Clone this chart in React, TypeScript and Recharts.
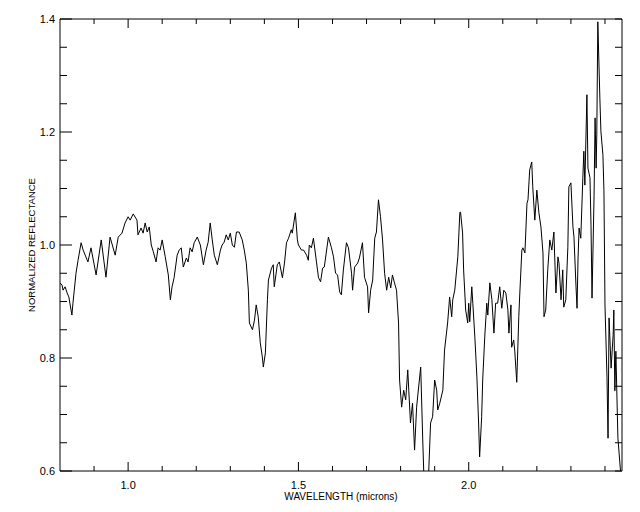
import { LineChart, Line, XAxis, YAxis } from 'recharts';

// wavelength (microns) of each sample
const wavelength = [
  0.800, 0.806, 0.809, 0.815, 0.821, 0.826, 0.835, 0.838, 0.847, 0.853,
  0.862, 0.868, 0.882, 0.891, 0.906, 0.921, 0.935, 0.947, 0.962, 0.971,
  0.982, 0.991, 1.000, 1.006, 1.015, 1.026, 1.029, 1.038, 1.044, 1.050,
  1.056, 1.062, 1.068, 1.074, 1.082, 1.088, 1.094, 1.100, 1.109, 1.118,
  1.124, 1.129, 1.135, 1.144, 1.150, 1.156, 1.162, 1.171, 1.176, 1.182,
  1.188, 1.194, 1.203, 1.212, 1.221, 1.229, 1.235, 1.241, 1.247, 1.253,
  1.262, 1.271, 1.276, 1.282, 1.288, 1.294, 1.300, 1.306, 1.312, 1.318,
  1.326, 1.335, 1.341, 1.347, 1.353, 1.356, 1.365, 1.371, 1.376, 1.382,
  1.388, 1.394, 1.397, 1.403, 1.409, 1.412, 1.421, 1.426, 1.429, 1.438,
  1.444, 1.453, 1.459, 1.465, 1.471, 1.479, 1.482, 1.491, 1.497, 1.500,
  1.509, 1.515, 1.524, 1.529, 1.532, 1.538, 1.544, 1.553, 1.559, 1.565,
  1.571, 1.576, 1.588, 1.597, 1.603, 1.609, 1.615, 1.621, 1.626, 1.632,
  1.641, 1.647, 1.656, 1.659, 1.665, 1.674, 1.679, 1.688, 1.694, 1.703,
  1.706, 1.712, 1.718, 1.724, 1.729, 1.735, 1.741, 1.747, 1.753, 1.759,
  1.765, 1.771, 1.776, 1.782, 1.788, 1.794, 1.797, 1.803, 1.809, 1.815,
  1.821, 1.824, 1.829, 1.835, 1.841, 1.847, 1.850, 1.859, 1.865, 1.870,
  1.880, 1.888, 1.894, 1.900, 1.906, 1.909, 1.915, 1.924, 1.929, 1.938,
  1.944, 1.950, 1.953, 1.959, 1.968, 1.974, 1.976, 1.982, 1.985, 1.991,
  1.997, 2.000, 2.003, 2.009, 2.012, 2.018, 2.024, 2.029, 2.032, 2.038,
  2.041, 2.047, 2.053, 2.056, 2.062, 2.068, 2.074, 2.079, 2.085, 2.091,
  2.097, 2.103, 2.109, 2.115, 2.118, 2.124, 2.126, 2.132, 2.135, 2.141,
  2.147, 2.150, 2.156, 2.159, 2.165, 2.171, 2.174, 2.179, 2.185, 2.188,
  2.194, 2.200, 2.206, 2.212, 2.218, 2.221, 2.226, 2.232, 2.238, 2.244,
  2.250, 2.256, 2.262, 2.265, 2.271, 2.276, 2.279, 2.285, 2.291, 2.294,
  2.300, 2.306, 2.309, 2.315, 2.318, 2.321, 2.324, 2.329, 2.335, 2.338,
  2.341, 2.344, 2.347, 2.350, 2.356, 2.359, 2.362, 2.368, 2.371, 2.374,
  2.376, 2.379, 2.385, 2.388, 2.394, 2.397, 2.400, 2.406, 2.409, 2.412,
  2.418, 2.424, 2.426, 2.429, 2.432, 2.438, 2.447,
];

// normalized reflectance at each wavelength
const reflectance = [
  0.933, 0.929, 0.920, 0.926, 0.915, 0.908, 0.876, 0.897, 0.950, 0.973,
  1.004, 0.991, 0.970, 0.995, 0.947, 1.009, 0.943, 1.014, 0.982, 1.014,
  1.021, 1.039, 1.050, 1.044, 1.055, 1.044, 1.018, 1.030, 1.021, 1.039,
  1.023, 1.032, 1.000, 0.988, 0.970, 0.995, 0.991, 1.009, 0.979, 0.947,
  0.903, 0.926, 0.942, 0.982, 0.991, 0.995, 0.961, 0.977, 0.970, 0.995,
  0.988, 1.004, 1.014, 1.000, 0.965, 0.991, 1.005, 1.039, 1.009, 0.982,
  0.965, 0.991, 1.000, 1.005, 1.018, 1.009, 1.021, 1.000, 0.996, 1.023,
  1.023, 1.009, 0.991, 0.968, 0.920, 0.862, 0.850, 0.867, 0.894, 0.873,
  0.827, 0.802, 0.784, 0.809, 0.903, 0.938, 0.959, 0.965, 0.926, 0.965,
  0.970, 0.942, 0.968, 1.004, 1.012, 1.027, 1.021, 1.057, 1.009, 1.000,
  0.991, 0.991, 0.982, 0.973, 1.000, 0.995, 1.012, 0.970, 0.942, 0.935,
  0.959, 0.961, 1.014, 0.995, 0.979, 0.950, 0.947, 0.917, 0.912, 0.956,
  1.004, 0.995, 0.950, 0.920, 0.961, 0.968, 0.977, 1.004, 0.943, 0.926,
  0.880, 0.920, 0.938, 1.012, 1.023, 1.080, 1.050, 1.009, 0.950, 0.920,
  0.943, 0.924, 0.947, 0.933, 0.920, 0.862, 0.761, 0.713, 0.743, 0.726,
  0.779, 0.743, 0.685, 0.720, 0.637, 0.713, 0.731, 0.784, 0.655, 0.560,
  0.560, 0.685, 0.696, 0.761, 0.743, 0.708, 0.720, 0.743, 0.814, 0.862,
  0.908, 0.873, 0.903, 0.920, 0.979, 1.058, 1.058, 1.021, 0.956, 0.885,
  0.862, 0.897, 0.864, 0.926, 0.897, 0.837, 0.766, 0.685, 0.625, 0.696,
  0.761, 0.837, 0.897, 0.876, 0.933, 0.903, 0.844, 0.897, 0.897, 0.926,
  0.888, 0.920, 0.915, 0.885, 0.844, 0.894, 0.819, 0.832, 0.814, 0.757,
  0.873, 0.915, 0.991, 0.995, 0.986, 1.074, 1.080, 1.133, 1.147, 1.103,
  1.044, 1.097, 1.057, 1.032, 0.986, 0.873, 0.885, 0.956, 1.009, 0.991,
  1.023, 0.915, 0.979, 0.968, 0.903, 0.956, 0.890, 0.903, 0.996, 1.103,
  1.110, 1.032, 1.014, 0.926, 0.888, 0.977, 1.030, 1.012, 1.119, 1.166,
  1.106, 1.186, 1.266, 1.136, 1.119, 1.035, 0.906, 1.088, 1.225, 1.136,
  1.195, 1.395, 1.260, 1.202, 1.159, 1.096, 0.894, 0.765, 0.658, 0.871,
  0.782, 0.841, 0.885, 0.742, 0.812, 0.658, 0.590,
];

const xTicks = [0.9, 1.0, 1.1, 1.2, 1.3, 1.4, 1.5, 1.6, 1.7, 1.8, 1.9, 2.0, 2.1, 2.2, 2.3, 2.4];
const xLabels = ['1.0', '1.5', '2.0'];
const yTicks = [
  0.6, 0.65, 0.7, 0.75, 0.8, 0.85, 0.9, 0.95, 1.0,
  1.05, 1.1, 1.15, 1.2, 1.25, 1.3, 1.35, 1.4,
];
const yLabels = ['0.6', '0.8', '1.0', '1.2', '1.4'];

const data = wavelength.map((w, i) => ({ w, r: reflectance[i] }));

const FONT = '"Liberation Sans", Arial, sans-serif';

const BottomTick = (props: any) => {
  const { x, y, payload } = props;
  const label = payload.value.toFixed(1);
  const major = xLabels.includes(label);
  return (
    <g>
      <line x1={x} y1={y} x2={x} y2={y - (major ? 9 : 5)} stroke="#000" />
      {major && (
        <text x={x} y={y + 18} textAnchor="middle" fontSize={11} fontFamily={FONT} fill="#000">
          {label}
        </text>
      )}
    </g>
  );
};

const TopTick = (props: any) => {
  const { x, y, payload } = props;
  const major = xLabels.includes(payload.value.toFixed(1));
  return <line x1={x} y1={y} x2={x} y2={y + (major ? 9 : 5)} stroke="#000" />;
};

const LeftTick = (props: any) => {
  const { x, y, payload } = props;
  const label = payload.value.toFixed(1);
  const major = yLabels.includes(label) && Math.abs(payload.value * 10 - Math.round(payload.value * 10)) < 1e-6;
  return (
    <g>
      <line x1={x} y1={y} x2={x + (major ? 12 : 7)} y2={y} stroke="#000" />
      {major && (
        <text x={x - 5} y={y + 4} textAnchor="end" fontSize={11} fontFamily={FONT} fill="#000">
          {label}
        </text>
      )}
    </g>
  );
};

const RightTick = (props: any) => {
  const { x, y } = props;
  return <line x1={x} y1={y} x2={x - 7} y2={y} stroke="#000" />;
};

export default function App() {
  return (
    <div style={{ position: 'absolute', left: 0, top: 0, width: 640, height: 512, background: '#fff' }}>
      <LineChart width={640} height={512} data={data} margin={{ top: 0, right: 0, bottom: 0, left: 0 }}>
        <XAxis
          xAxisId="bottom"
          dataKey="w"
          type="number"
          domain={[0.8, 2.45]}
          allowDataOverflow
          ticks={xTicks}
          interval={0}
          height={41}
          tickSize={0}
          tickMargin={0}
          tickLine={false}
          axisLine={{ stroke: '#000' }}
          tick={<BottomTick />}
          label={{
            value: 'WAVELENGTH (microns)',
            position: 'insideBottom',
            offset: 12,
            fontSize: 10,
            fontFamily: FONT,
            fill: '#000',
          }}
        />
        <XAxis
          xAxisId="top"
          orientation="top"
          dataKey="w"
          type="number"
          domain={[0.8, 2.45]}
          allowDataOverflow
          ticks={xTicks}
          interval={0}
          height={19}
          tickSize={0}
          tickMargin={0}
          tickLine={false}
          axisLine={{ stroke: '#000' }}
          tick={<TopTick />}
        />
        <YAxis
          yAxisId="left"
          type="number"
          domain={[0.6, 1.4]}
          allowDataOverflow
          ticks={yTicks}
          interval={0}
          width={60}
          tickSize={0}
          tickMargin={0}
          tickLine={false}
          axisLine={{ stroke: '#000' }}
          tick={<LeftTick />}
          label={{
            value: 'NORMALIZED REFLECTANCE',
            angle: -90,
            position: 'insideLeft',
            offset: 32,
            fontSize: 9.5,
            fontFamily: FONT,
            fill: '#000',
            style: { textAnchor: 'middle' },
          }}
        />
        <YAxis
          yAxisId="right"
          orientation="right"
          type="number"
          domain={[0.6, 1.4]}
          allowDataOverflow
          ticks={yTicks}
          interval={0}
          width={18}
          tickSize={0}
          tickMargin={0}
          tickLine={false}
          axisLine={{ stroke: '#000' }}
          tick={<RightTick />}
        />
        <Line
          xAxisId="bottom"
          yAxisId="left"
          type="linear"
          dataKey="r"
          stroke="#000"
          strokeWidth={1}
          dot={false}
          isAnimationActive={false}
        />
      </LineChart>
    </div>
  );
}
